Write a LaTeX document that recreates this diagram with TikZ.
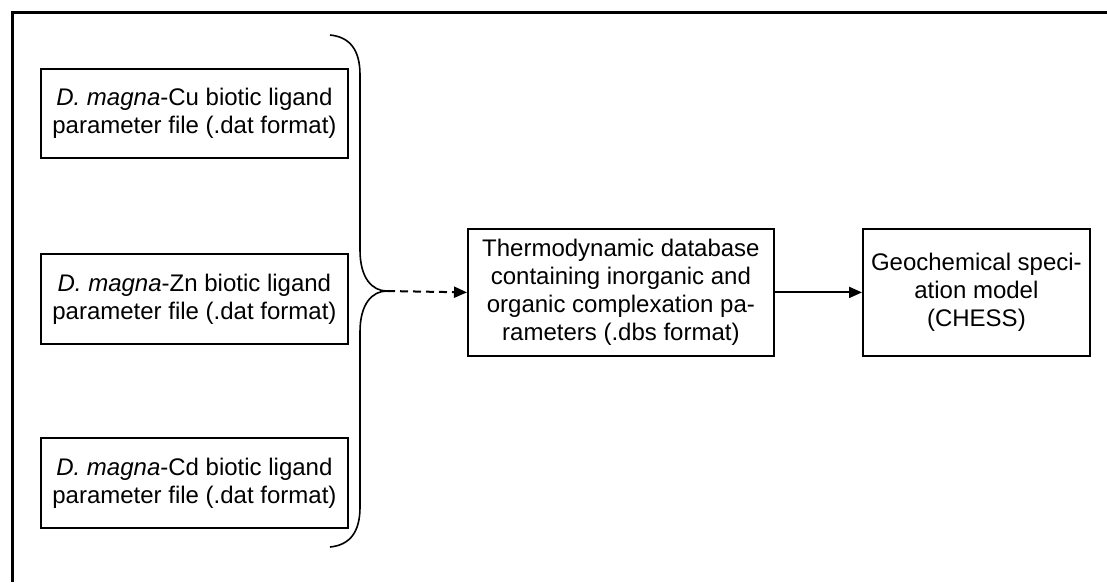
\documentclass[tikz,border=0pt]{standalone}
\usepackage{fontspec}
\setmainfont{Liberation Sans}
\usetikzlibrary{arrows.meta}
\begin{document}
\begin{tikzpicture}[x=1pt,y=-1pt,
  every node/.style={font=\fontsize{24}{28}\selectfont},
  box/.style={draw, line width=1.8pt, inner sep=0pt, align=center, anchor=north west},
  frameline/.style={line width=3pt},
  bracestyle/.style={line width=1.6pt},
  arr/.style={line width=2pt, -{Triangle[length=13pt,width=11pt]}},
  dashedarr/.style={arr, dash pattern=on 8pt off 5pt}]
\useasboundingbox (0,0) rectangle (1107,582);
\draw[frameline] (12,582) -- (12,12) -- (1107,12);
\node[box, minimum width=307pt, minimum height=89pt] (cu) at (40,68)
  {\textit{D. magna}-Cu biotic ligand\\parameter file (.dat format)};
\node[box, minimum width=307pt, minimum height=90pt] (zn) at (40,253)
  {\textit{D. magna}-Zn biotic ligand\\parameter file (.dat format)};
\node[box, minimum width=307pt, minimum height=90pt] (cd) at (40,437)
  {\textit{D. magna}-Cd biotic ligand\\parameter file (.dat format)};
\node[box, minimum width=306pt, minimum height=127pt] (thermo) at (467,228)
  {Thermodynamic database\\containing inorganic and\\organic complexation pa-\\rameters (.dbs format)};
\node[box, minimum width=227pt, minimum height=127pt] (geo) at (862,228)
  {Geochemical speci-\\ation model\\(CHESS)};
\coordinate (tip) at (387,291);
\draw[bracestyle] (330,35) .. controls (350,37) and (360,50) .. (360,75)
  -- (360,250) .. controls (360,278) and (372,291) .. (tip)
  .. controls (372,291) and (360,304) .. (360,332)
  -- (360,507) .. controls (360,532) and (350,545) .. (330,547);
\draw[dashedarr] (tip) -- (thermo.west);
\draw[arr] (thermo.east) -- (geo.west);
\end{tikzpicture}
\end{document}
